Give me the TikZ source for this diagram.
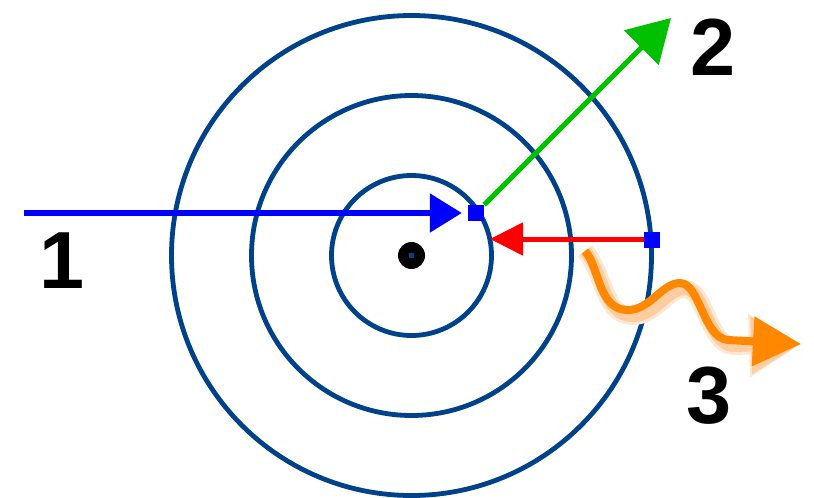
\documentclass[tikz,border=0pt]{standalone}
\usepackage{fontspec}
\setmainfont{Liberation Sans}
\usetikzlibrary{arrows.meta}
\definecolor{ringC}{RGB}{0,66,137}
\definecolor{blueC}{RGB}{0,0,255}
\definecolor{greenC}{RGB}{0,192,0}
\definecolor{redC}{RGB}{255,0,0}
\definecolor{orangeC}{RGB}{255,136,0}
\definecolor{glowC}{RGB}{255,205,160}
\definecolor{glowD}{RGB}{255,232,210}
\tikzset{
  ring/.style={draw=ringC, line width=4.8pt},
  sq/.style={fill=blueC, draw=none, minimum size=16pt, inner sep=0pt},
  digit/.style={font=\fontsize{81}{81}\selectfont\bfseries, inner sep=0pt, text=black},
  bluearrow/.style={draw=blueC, line width=5.5pt, -{Triangle[length=32pt,width=38pt]}, shorten >=6pt},
  greenarrow/.style={draw=greenC, line width=5pt, -{Triangle[length=42pt,width=48pt]}},
  redarrow/.style={draw=redC, line width=5pt, -{Triangle[length=33pt,width=32pt]}},
  orangearrow/.style={draw=orangeC, line width=8pt, -{Triangle[length=48pt,width=48pt]}},
  glowarrow/.style={draw=glowC, line width=12pt, -{Triangle[length=50pt,width=54pt]}},
  glowarrowD/.style={draw=glowD, line width=18pt, -{Triangle[length=52pt,width=60pt]}},
}
\begin{document}
\begin{tikzpicture}[x=1pt,y=-1pt]
\path[use as bounding box, fill=white] (0,0) rectangle (814,498);
% centre
\node[circle, fill=black, minimum size=27pt, inner sep=0pt] (c) at (411.5,255.5) {};
\node[fill=ringC, minimum size=5pt, inner sep=0pt] (cc) at (c.center) {};
\draw[ring] (c.center) circle[radius=80pt];
\draw[ring] (c.center) circle[radius=160pt];
\draw[ring] (c.center) circle[radius=240pt];
% squares
\node[sq] (bsq) at (476,213) {};
\node[sq] (rsq) at (652,240) {};
% free ends
\coordinate (b1) at (24,213);
\coordinate (g2) at (671,18);
\coordinate (r1) at (490,239);
\coordinate (o1) at (585,251);
\coordinate (o2) at (801,344);
% arrows
\draw[bluearrow] (b1) -- (bsq.west);
\draw[greenarrow] (bsq.north east) -- (g2);
\draw[redarrow] (rsq.west |- r1) -- (r1);
% orange wavy arrow with glow
\begin{scope}[shift={(5,6)}]
\draw[glowarrowD] (o1) .. controls (600,268) and (598,310) .. (628,310) .. controls (650,310) and (662,283) .. (680,283) .. controls (700,283) and (703,338) .. (728,340) -- (o2);
\draw[glowarrow] (o1) .. controls (600,268) and (598,310) .. (628,310) .. controls (650,310) and (662,283) .. (680,283) .. controls (700,283) and (703,338) .. (728,340) -- (o2);
\end{scope}
\draw[orangearrow] (o1) .. controls (600,268) and (598,310) .. (628,310) .. controls (650,310) and (662,283) .. (680,283) .. controls (700,283) and (703,338) .. (728,340) -- (o2);
% labels
\node[digit] (l1) at (62,261) {1};
\node[digit] (l2) at (713,47) {2};
\node[digit] (l3) at (709,396) {3};
\end{tikzpicture}
\end{document}
